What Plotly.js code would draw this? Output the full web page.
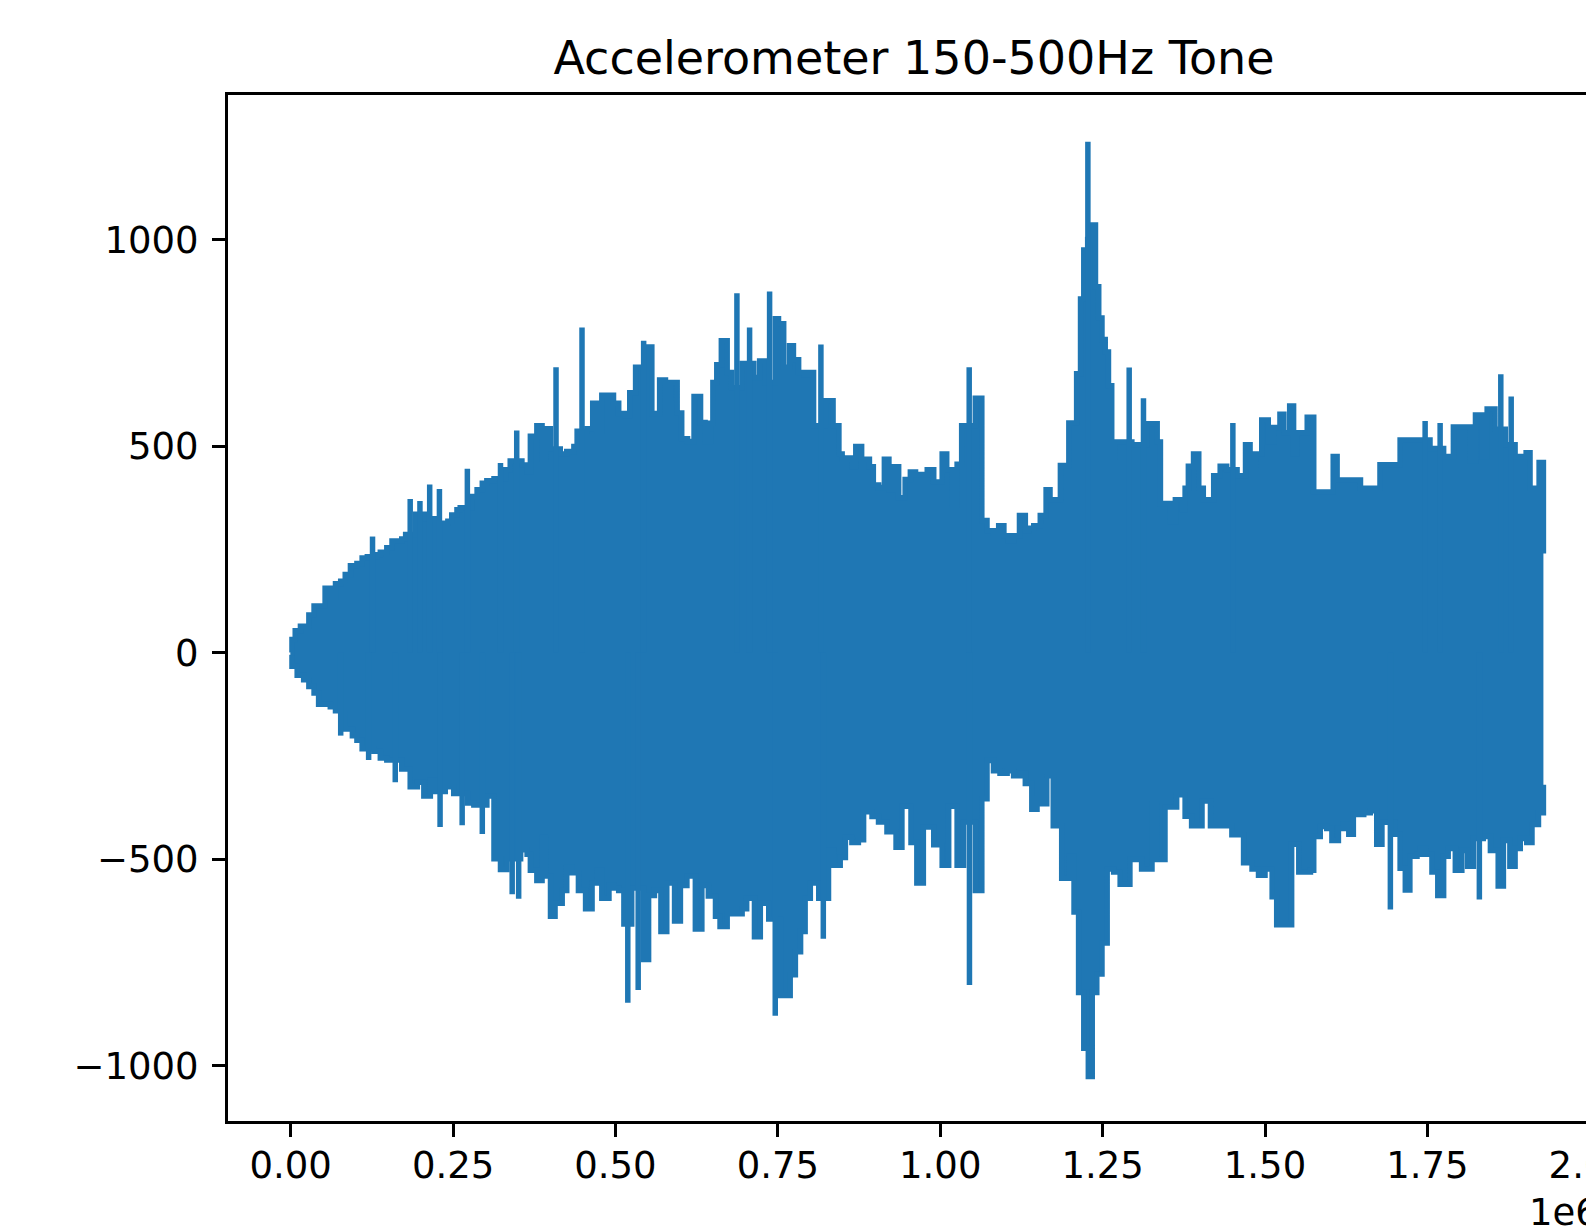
<!DOCTYPE html>
<html>
<head>
<meta charset="utf-8">
<script src="https://cdn.plot.ly/plotly-3.0.1.min.js"></script>
<style>
html,body{margin:0;padding:0;overflow:hidden;background:#fff;}
#chart{width:1700px;height:1229px;}
</style>
</head>
<body>
<div id="chart"></div>
<script>
// x in units of 1e6 samples
const upperX = [0.000,0.002,0.007,0.015,0.028,0.036,0.053,0.061,0.069,0.077,0.084,0.092,0.102,0.110,0.118,0.133,0.138,0.148,0.156,0.171,0.177,0.192,0.206,0.223,0.242,0.248,0.256,0.261,0.279,0.287,0.295,0.302,0.313,0.331,0.338,0.356,0.364,0.369,0.379,0.387,0.392,0.400,0.415,0.425,0.436,0.441,0.456,0.465,0.472,0.479,0.497,0.505,0.515,0.522,0.531,0.549,0.556,0.568,0.577,0.585,0.595,0.602,0.611,0.621,0.631,0.638,0.646,0.650,0.656,0.663,0.672,0.679,0.695,0.713,0.722,0.731,0.746,0.751,0.759,0.768,0.774,0.782,0.790,0.797,0.805,0.823,0.835,0.844,0.849,0.857,0.864,0.870,0.879,0.891,0.897,0.905,0.914,0.921,0.928,0.936,0.946,0.954,0.962,0.980,0.990,1.003,1.010,1.018,1.026,1.033,1.054,1.064,1.072,1.082,1.090,1.098,1.105,1.113,1.122,1.131,1.136,1.144,1.154,1.163,1.169,1.185,1.198,1.210,1.216,1.221,1.227,1.234,1.239,1.244,1.249,1.254,1.259,1.264,1.269,1.295,1.318,1.334,1.339,1.354,1.362,1.372,1.377,1.382,1.390,1.398,1.405,1.421,1.431,1.441,1.457,1.470,1.477,1.485,1.495,1.505,1.513,1.523,1.529,1.538,1.544,1.549,1.565,1.575,1.605,1.611,1.647,1.677,1.708,1.754,1.775,1.790,1.816,1.824,1.834,1.842,1.854,1.870,1.885,1.902,1.908,1.922,1.9286];
const upperY = [0,32,53,64,91,113,156,134,167,173,189,210,216,229,232,237,243,254,270,275,286,335,324,313,318,333,346,351,378,394,410,416,421,443,464,454,437,524,549,468,542,493,481,487,499,536,542,604,536,623,604,579,573,629,691,740,579,660,616,654,580,518,511,620,557,511,555,654,697,755,678,641,700,666,706,654,808,796,691,743,709,678,672,678,549,610,549,481,468,471,450,499,468,450,406,400,468,394,450,375,419,437,431,443,413,481,443,357,456,549,616,320,295,289,307,283,270,283,332,295,301,307,332,394,370,453,556,675,856,975,1000,1035,886,810,758,728,646,473,510,503,554,510,361,316,370,345,398,451,481,398,370,428,451,443,428,503,451,481,563,510,545,577,532,597,481,532,570,389,475,418,398,455,515,494,475,546,465,575,475,590,541,503,475,484,398,460,240];

const lowerX = [0.000,0.002,0.010,0.020,0.028,0.036,0.043,0.061,0.069,0.084,0.095,0.102,0.110,0.128,0.138,0.148,0.171,0.184,0.195,0.205,0.215,0.223,0.238,0.251,0.272,0.282,0.302,0.313,0.323,0.333,0.354,0.364,0.369,0.379,0.387,0.392,0.400,0.407,0.418,0.425,0.433,0.443,0.454,0.464,0.472,0.479,0.490,0.497,0.505,0.513,0.525,0.543,0.551,0.560,0.570,0.579,0.591,0.600,0.610,0.623,0.633,0.643,0.654,0.661,0.672,0.695,0.702,0.714,0.723,0.736,0.754,0.769,0.777,0.785,0.792,0.800,0.813,0.828,0.836,0.846,0.854,0.864,0.874,0.882,0.895,0.905,0.918,0.932,0.941,0.955,0.964,0.974,0.990,1.003,1.013,1.026,1.036,1.054,1.064,1.072,1.082,1.092,1.103,1.113,1.123,1.131,1.141,1.149,1.156,1.164,1.174,1.187,1.198,1.206,1.213,1.221,1.228,1.234,1.241,1.249,1.257,1.267,1.277,1.292,1.310,1.326,1.334,1.346,1.364,1.377,1.387,1.403,1.416,1.449,1.467,1.480,1.490,1.500,1.511,1.518,1.541,1.552,1.570,1.575,1.585,1.595,1.603,1.613,1.621,1.629,1.636,1.652,1.662,1.672,1.680,1.700,1.708,1.716,1.723,1.734,1.739,1.747,1.757,1.766,1.775,1.782,1.793,1.803,1.812,1.821,1.836,1.847,1.859,1.867,1.877,1.885,1.893,1.903,1.911,1.921,1.9286];
const lowerY = [-5,-33,-55,-66,-82,-98,-125,-131,-141,-185,-201,-212,-233,-239,-255,-260,-282,-325,-314,-347,-309,-336,-325,-341,-364,-369,-347,-499,-525,-499,-477,-488,-527,-552,-447,-541,-638,-607,-576,-520,-533,-576,-620,-558,-527,-595,-564,-570,-576,-657,-570,-743,-588,-576,-675,-558,-650,-564,-541,-669,-564,-589,-638,-663,-632,-620,-595,-688,-607,-645,-830,-780,-724,-675,-595,-558,-595,-478,-515,-496,-447,-460,-453,-385,-397,-410,-434,-471,-372,-460,-558,-422,-465,-515,-372,-515,-410,-576,-354,-261,-286,-292,-286,-298,-292,-317,-379,-354,-366,-298,-419,-546,-493,-628,-823,-958,-1026,-823,-778,-703,-524,-531,-561,-501,-524,-366,-501,-374,-344,-396,-419,-359,-419,-441,-509,-524,-539,-524,-591,-659,-464,-531,-527,-445,-421,-426,-455,-426,-416,-440,-392,-388,-383,-464,-411,-440,-522,-575,-493,-488,-474,-488,-531,-588,-493,-474,-527,-479,-517,-450,-445,-479,-565,-455,-517,-474,-450,-460,-416,-388,-320];

const spikeUpX = [0.126,0.184,0.199,0.214,0.229,0.272,0.323,0.348,0.4085,0.4485,0.5434,0.687,0.7065,0.7373,0.8163,1.0446,1.2273,1.2909,1.3129,1.4505,1.7465,1.7696,1.863,1.879];
const spikeUpY = [281,372,367,407,396,445,459,538,691,787,755,870,787,874,746,691,1237,690,616,556,561,556,674,620];
const spikeDnX = [0.077,0.120,0.161,0.230,0.264,0.295,0.341,0.351,0.519,0.535,0.746,0.820,1.045,1.693,1.830];
const spikeDnY = [-201,-260,-314,-422,-418,-439,-585,-596,-848,-817,-879,-693,-805,-622,-598];

const xTickVals = [0,0.25,0.5,0.75,1.0,1.25,1.5,1.75,2.0];
const xTickText = ['0.00','0.25','0.50','0.75','1.00','1.25','1.50','1.75','2.00'];
const yTickVals = [-1000,-500,0,500,1000];
const yTickText = ['\u22121000','\u2212500','0','500','1000'];

const C = '#1f77b4';
const LW = 5.5;

function spikeTrace(xs, ys){
  const x=[], y=[];
  for(let i=0;i<xs.length;i++){ x.push(xs[i],xs[i],null); y.push(0,ys[i],null); }
  return {x:x,y:y,mode:'lines',line:{color:C,width:LW},hoverinfo:'skip',showlegend:false};
}

const traces = [
  {x:lowerX,y:lowerY,mode:'lines',line:{color:C,width:LW,shape:'hv'},hoverinfo:'skip',showlegend:false},
  {x:upperX,y:upperY,mode:'lines',fill:'tonexty',fillcolor:C,line:{color:C,width:LW,shape:'hv'},hoverinfo:'skip',showlegend:false},
  spikeTrace(spikeUpX, spikeUpY),
  spikeTrace(spikeDnX, spikeDnY)
];

const font = {family:'DejaVu Sans, sans-serif', color:'#000'};
// plot area spans x 228..1607 px; total width 1700
const layout = {
  width:1700, height:1229,
  margin:{l:228,r:93,t:95,b:108},
  paper_bgcolor:'#fff', plot_bgcolor:'#fff',
  showlegend:false,
  title:{text:'Accelerometer 150-500Hz Tone', font:Object.assign({size:46},font), x:(914-228)/1379, xref:'paper', xanchor:'center', y:1-57.7/1229, yref:'container', yanchor:'middle'},
  xaxis:{range:[-0.0965,2.0265], tickmode:'array', tickvals:xTickVals, ticktext:xTickText,
    showgrid:false, zeroline:false, showline:true, linecolor:'#000', linewidth:3, mirror:true,
    ticks:'outside', ticklen:13, tickwidth:3, tickcolor:'#000', ticklabeloverflow:'allow', ticklabelstandoff:-3,
    tickfont:Object.assign({size:37},font)},
  yaxis:{range:[-1134,1350], tickmode:'array', tickvals:yTickVals, ticktext:yTickText,
    showgrid:false, zeroline:false, showline:true, linecolor:'#000', linewidth:3, mirror:true,
    ticks:'outside', ticklen:13, tickwidth:3, tickcolor:'#000', ticklabelstandoff:6,
    tickfont:Object.assign({size:37},font)},
  annotations:[{text:'1e6', xref:'paper', yref:'paper', x:1, y:-0.0887, xanchor:'right', yanchor:'middle', xshift:-6, showarrow:false, font:Object.assign({size:37},font)}]
};

Plotly.newPlot('chart', traces, layout, {displayModeBar:false, staticPlot:true});
</script>
</body>
</html>
